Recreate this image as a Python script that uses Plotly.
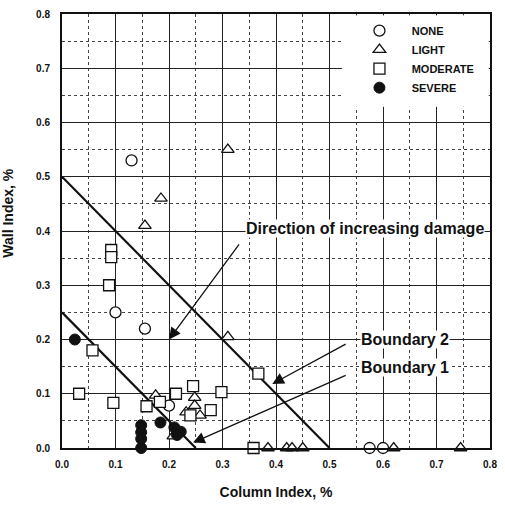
import plotly.graph_objects as go

# ---- data ----
none_x = [0.13, 0.10, 0.155, 0.20, 0.575, 0.60]
none_y = [0.53, 0.25, 0.22, 0.078, 0.0, 0.0]

light_x = [0.31, 0.185, 0.155, 0.31, 0.175, 0.248, 0.248, 0.232, 0.258, 0.208,
           0.385, 0.42, 0.43, 0.45, 0.62, 0.745]
light_y = [0.55, 0.46, 0.41, 0.205, 0.097, 0.093, 0.078, 0.066, 0.06, 0.022,
           0.0, 0.0, 0.0, 0.0, 0.0, 0.0]

moderate_x = [0.092, 0.092, 0.088, 0.057, 0.032, 0.096, 0.158, 0.183, 0.213,
              0.245, 0.298, 0.278, 0.24, 0.367, 0.358]
moderate_y = [0.365, 0.352, 0.30, 0.18, 0.10, 0.083, 0.077, 0.085, 0.10,
              0.114, 0.103, 0.07, 0.06, 0.137, 0.0]

severe_x = [0.024, 0.148, 0.148, 0.148, 0.148, 0.184, 0.21, 0.222, 0.215]
severe_y = [0.20, 0.042, 0.029, 0.017, 0.0, 0.047, 0.038, 0.03, 0.024]

boundary1_x = [0.0, 0.25]
boundary1_y = [0.25, 0.0]
boundary2_x = [0.0, 0.5]
boundary2_y = [0.5, 0.0]

tick_vals = [0.0, 0.1, 0.2, 0.3, 0.4, 0.5, 0.6, 0.7, 0.8]

FONT = "Liberation Sans, Arial, sans-serif"
INK = "#111111"
NB = "\u00a0"

fig = go.Figure()

# boundary lines
for bx, by in [(boundary1_x, boundary1_y), (boundary2_x, boundary2_y)]:
    fig.add_trace(go.Scatter(x=bx, y=by, mode="lines",
                             line=dict(color=INK, width=2.2),
                             showlegend=False, hoverinfo="skip"))

mk_line = dict(color=INK, width=1.3)
fig.add_trace(go.Scatter(x=none_x, y=none_y, mode="markers", name=NB * 4 + "NONE",
                         marker=dict(symbol="circle", size=11, color="white", line=mk_line),
                         cliponaxis=False))
fig.add_trace(go.Scatter(x=light_x, y=light_y, mode="markers", name=NB * 4 + "LIGHT",
                         marker=dict(symbol="triangle-up", size=11, color="white", line=mk_line),
                         cliponaxis=False))
fig.add_trace(go.Scatter(x=moderate_x, y=moderate_y, mode="markers", name=NB * 4 + "MODERATE",
                         marker=dict(symbol="square", size=11, color="white", line=mk_line),
                         cliponaxis=False))
fig.add_trace(go.Scatter(x=severe_x, y=severe_y, mode="markers", name=NB * 4 + "SEVERE",
                         marker=dict(symbol="circle", size=11, color=INK, line=dict(color=INK, width=1)),
                         cliponaxis=False))

axis_common = dict(
    range=[0, 0.8], tickvals=tick_vals, tickformat=".1f",
    showgrid=True, gridcolor="#222222", gridwidth=1.1,
    showline=True, linecolor=INK, linewidth=2, mirror=True,
    ticks="", zeroline=False,
    tickfont=dict(family=FONT, size=10, color=INK, weight="bold"),
    minor=dict(dtick=0.05, tick0=0, showgrid=True, gridcolor="#444444",
               gridwidth=1, griddash="dot"),
    fixedrange=True,
)

fig.update_xaxes(**axis_common,
                 title=dict(text="Column Index, %", standoff=18,
                            font=dict(family=FONT, size=14, color=INK, weight="bold")),
                 ticklabelstandoff=6)
fig.update_yaxes(**axis_common, ticklabelstandoff=8)

ann_font = dict(family=FONT, size=16, color=INK, weight="bold")
annotations = [
    dict(x=-0.125, y=0.541, xref="paper", yref="paper", text="Wall Index, %",
         textangle=-90, showarrow=False, xanchor="center", yanchor="middle",
         font=dict(family=FONT, size=14, color=INK, weight="bold")),
    dict(x=0.342, y=0.405, xref="x", yref="y", text="Direction of increasing damage",
         showarrow=False, xanchor="left", yanchor="middle", font=ann_font, bgcolor="white",
         borderpad=0),
    dict(x=0.557, y=0.20, xref="x", yref="y", text="Boundary 2",
         showarrow=False, xanchor="left", yanchor="middle", font=ann_font, bgcolor="white",
         borderpad=0),
    dict(x=0.557, y=0.149, xref="x", yref="y", text="Boundary 1",
         showarrow=False, xanchor="left", yanchor="middle", font=ann_font, bgcolor="white",
         borderpad=0),
    # arrows
    dict(x=0.20, y=0.20, ax=0.333, ay=0.378, xref="x", yref="y", axref="x", ayref="y",
         text="", showarrow=True, arrowhead=2, arrowsize=1.8, arrowwidth=1.3, arrowcolor=INK),
    dict(x=0.393, y=0.118, ax=0.533, ay=0.193, xref="x", yref="y", axref="x", ayref="y",
         text="", showarrow=True, arrowhead=2, arrowsize=1.8, arrowwidth=1.3, arrowcolor=INK),
    dict(x=0.245, y=0.01, ax=0.533, ay=0.135, xref="x", yref="y", axref="x", ayref="y",
         text="", showarrow=True, arrowhead=2, arrowsize=1.8, arrowwidth=1.3, arrowcolor=INK),
]

fig.update_layout(
    width=505, height=508,
    margin=dict(l=62, r=8, t=8, b=60),
    plot_bgcolor="white", paper_bgcolor="white",
    annotations=annotations,
    legend=dict(x=0.695, y=0.995, xanchor="left", yanchor="top",
                bgcolor="rgba(0,0,0,0)", borderwidth=0,
                font=dict(family=FONT, size=11, color=INK, weight="bold"),
                tracegroupgap=0),
    showlegend=True,
)

# white patch behind the legend that hides the grid there
fig.add_shape(type="rect", xref="x", yref="y", x0=0.524, x1=0.7965, y0=0.63, y1=0.7965,
              fillcolor="white", line=dict(color="white", width=1), layer="above")

fig.write_html("out.html")
